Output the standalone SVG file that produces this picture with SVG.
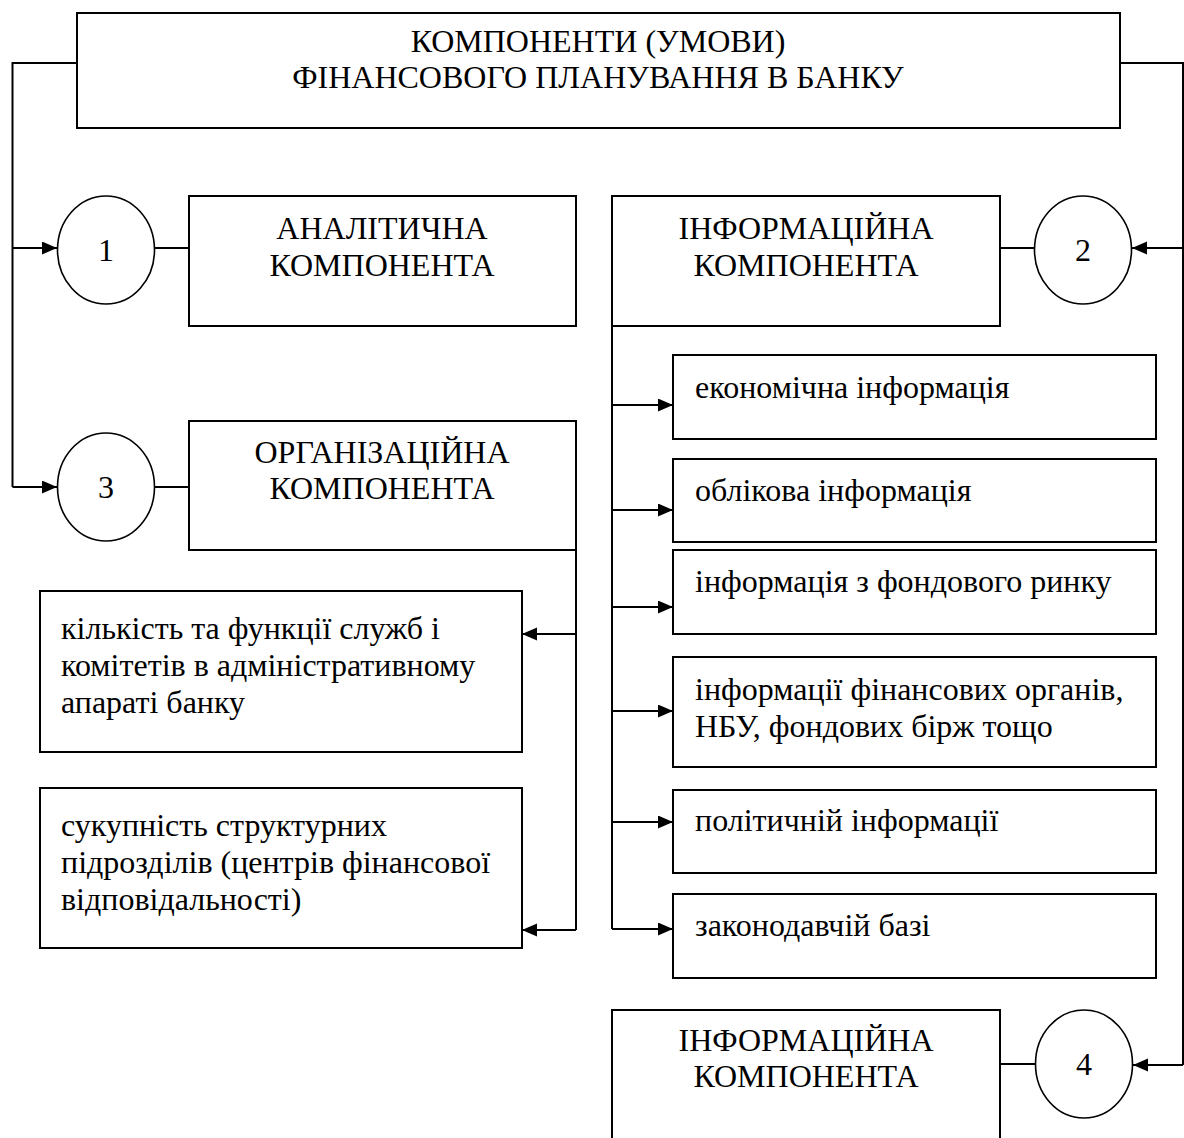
<svg xmlns="http://www.w3.org/2000/svg" width="1184" height="1138" viewBox="0 0 1184 1138">
<style>
.box{fill:#fff;stroke:#000;stroke-width:2}
.open{fill:none;stroke:#000;stroke-width:2}
.circ{fill:#fff;stroke:#000;stroke-width:1.6}
.ln{fill:none;stroke:#000;stroke-width:2}
.t{font-family:"Liberation Serif","Times New Roman",serif;font-size:32px;fill:#000}
.c{text-anchor:middle}
</style>
<defs>
<marker id="ah" markerUnits="userSpaceOnUse" markerWidth="16" markerHeight="14" refX="15" refY="6.5" orient="auto">
<path d="M0,0 L15,6.5 L0,13 z" fill="#000"/>
</marker>
</defs>
<rect width="1184" height="1138" fill="#fff"/>
<g id="connectors">
<path class="ln" d="M77,63 H12.5 V487"/>
<path class="ln" d="M12.5,248 H57" marker-end="url(#ah)"/>
<path class="ln" d="M12.5,487 H57" marker-end="url(#ah)"/>
<path class="ln" d="M1120,63 H1183 V1065"/>
<path class="ln" d="M1183,248 H1132" marker-end="url(#ah)"/>
<path class="ln" d="M1183,1065 H1133" marker-end="url(#ah)"/>
<path class="ln" d="M155,248 H189"/>
<path class="ln" d="M155,487 H189"/>
<path class="ln" d="M1000,248 H1035"/>
<path class="ln" d="M1000,1064 H1035"/>
<path class="ln" d="M576,550 V930"/>
<path class="ln" d="M576,634 H522" marker-end="url(#ah)"/>
<path class="ln" d="M576,930 H522" marker-end="url(#ah)"/>
<path class="ln" d="M612,326 V929"/>
<path class="ln" d="M612,405 H673" marker-end="url(#ah)"/>
<path class="ln" d="M612,510 H673" marker-end="url(#ah)"/>
<path class="ln" d="M612,607 H673" marker-end="url(#ah)"/>
<path class="ln" d="M612,711 H673" marker-end="url(#ah)"/>
<path class="ln" d="M612,822 H673" marker-end="url(#ah)"/>
<path class="ln" d="M612,929 H673" marker-end="url(#ah)"/>
</g>
<g id="title">
<rect class="box" x="77" y="13" width="1043" height="115"/>
<text class="t c" x="598" y="52">КОМПОНЕНТИ (УМОВИ)</text>
<text class="t c" x="598" y="88">ФІНАНСОВОГО ПЛАНУВАННЯ В БАНКУ</text>
</g>
<g id="circle1">
<ellipse class="circ" cx="106" cy="250" rx="48.5" ry="54"/>
<text class="t c" x="106" y="261">1</text>
</g>
<g id="analytic">
<rect class="box" x="189" y="196" width="387" height="130"/>
<text class="t c" x="382" y="239">АНАЛІТИЧНА</text>
<text class="t c" x="382" y="276">КОМПОНЕНТА</text>
</g>
<g id="info">
<rect class="box" x="612" y="196" width="388" height="130"/>
<text class="t c" x="806" y="239">ІНФОРМАЦІЙНА</text>
<text class="t c" x="806" y="276">КОМПОНЕНТА</text>
</g>
<g id="circle2">
<ellipse class="circ" cx="1083" cy="250" rx="48.5" ry="54"/>
<text class="t c" x="1083" y="261">2</text>
</g>
<g id="circle3">
<ellipse class="circ" cx="106" cy="487" rx="48.5" ry="54"/>
<text class="t c" x="106" y="498">3</text>
</g>
<g id="org">
<rect class="box" x="189" y="421" width="387" height="129"/>
<text class="t c" x="382" y="463">ОРГАНІЗАЦІЙНА</text>
<text class="t c" x="382" y="499">КОМПОНЕНТА</text>
</g>
<g id="org1">
<rect class="box" x="40" y="591" width="482" height="161"/>
<text class="t" x="61" y="639">кількість та функції служб і</text>
<text class="t" x="61" y="676">комітетів в адміністративному</text>
<text class="t" x="61" y="713">апараті банку</text>
</g>
<g id="org2">
<rect class="box" x="40" y="788" width="482" height="160"/>
<text class="t" x="61" y="836">сукупність структурних</text>
<text class="t" x="61" y="873">підрозділів (центрів фінансової</text>
<text class="t" x="61" y="910">відповідальності)</text>
</g>
<g id="info1">
<rect class="box" x="673" y="355" width="483" height="84"/>
<text class="t" x="695" y="398">економічна інформація</text>
</g>
<g id="info2">
<rect class="box" x="673" y="459" width="483" height="83"/>
<text class="t" x="695" y="501">облікова інформація</text>
</g>
<g id="info3">
<rect class="box" x="673" y="550" width="483" height="84"/>
<text class="t" x="695" y="592">інформація з фондового ринку</text>
</g>
<g id="info4">
<rect class="box" x="673" y="657" width="483" height="110"/>
<text class="t" x="695" y="700">інформації фінансових органів,</text>
<text class="t" x="695" y="737">НБУ, фондових бірж тощо</text>
</g>
<g id="info5">
<rect class="box" x="673" y="790" width="483" height="83"/>
<text class="t" x="695" y="831">політичній інформації</text>
</g>
<g id="info6">
<rect class="box" x="673" y="894" width="483" height="84"/>
<text class="t" x="695" y="936">законодавчій базі</text>
</g>
<g id="info-b">
<path class="open" d="M612,1140 V1010 H1000 V1140"/>
<text class="t c" x="806" y="1051">ІНФОРМАЦІЙНА</text>
<text class="t c" x="806" y="1087">КОМПОНЕНТА</text>
</g>
<g id="circle4">
<ellipse class="circ" cx="1084" cy="1064" rx="48.5" ry="54"/>
<text class="t c" x="1084" y="1075">4</text>
</g>
</svg>
